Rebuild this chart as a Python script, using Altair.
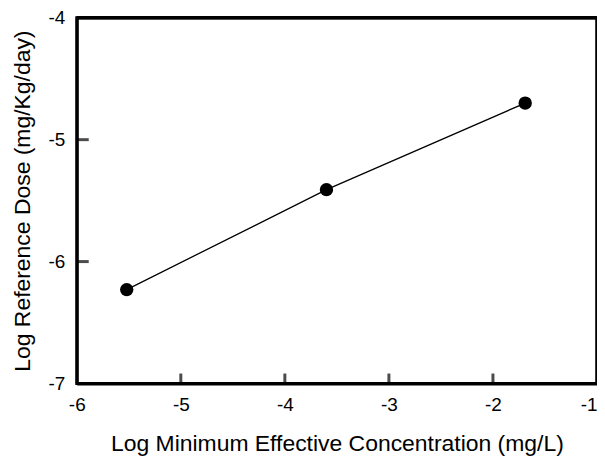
import altair as alt
import pandas as pd

log_mec = [-5.52, -3.60, -1.69]
log_rfd = [-6.23, -5.41, -4.70]
x_ticks = [-6, -5, -4, -3, -2, -1]
y_ticks = [-7, -6, -5, -4]
x_inner_ticks = [-5, -4, -3, -2]
y_inner_ticks = [-6, -5]

W, H = 522, 367
df = pd.DataFrame({"x": log_mec, "y": log_rfd})
xt = pd.DataFrame({"x": x_inner_ticks})
yt = pd.DataFrame({"y": y_inner_ticks})

font = "Liberation Sans"
xscale = alt.Scale(domain=[-6, -1], nice=False, zero=False)
yscale = alt.Scale(domain=[-7, -4], nice=False, zero=False)

common = dict(ticks=False, grid=False, domainColor="black", domainWidth=3,
              labelFontSize=19, titleFontSize=23, labelColor="black", titleColor="black",
              labelFont=font, titleFont=font, titleFontWeight="normal", labelFlush=False,
              labelExpr="'' + datum.value")
xaxis = alt.Axis(values=x_ticks, title="Log Minimum Effective Concentration (mg/L)",
                 labelPadding=12, titlePadding=18,
                 labelAlign=alt.condition("datum.value == -1", alt.value("right"), alt.value("center")),
                 **common)
yaxis = alt.Axis(values=y_ticks, title="Log Reference Dose (mg/Kg/day)",
                 labelPadding=12, titlePadding=14, **common)

base = alt.Chart(df)
line = base.mark_line(color="black", strokeWidth=1.3).encode(
    x=alt.X("x:Q", scale=xscale, axis=xaxis),
    y=alt.Y("y:Q", scale=yscale, axis=yaxis),
)
pts = base.mark_circle(color="black", size=180, opacity=1).encode(x="x:Q", y="y:Q")
xt_marks = alt.Chart(xt).mark_tick(color="black", thickness=3, size=10, orient="vertical").encode(
    x="x:Q", y=alt.value(H - 5))
yt_marks = alt.Chart(yt).mark_tick(color="black", thickness=3, size=12, orient="horizontal").encode(
    y="y:Q", x=alt.value(6))
top_border = alt.Chart(df).mark_rule(color="black", strokeWidth=3).encode(
    x=alt.value(0), x2=alt.value(W), y=alt.value(0))
right_border = alt.Chart(df).mark_rule(color="black", strokeWidth=2.5).encode(
    x=alt.value(W), y=alt.value(0), y2=alt.value(H))

chart = alt.layer(line, pts, xt_marks, yt_marks, top_border, right_border).properties(
    width=W, height=H,
    autosize=alt.AutoSizeParams(type="none"),
    padding={"left": 69, "top": 9, "right": 0, "bottom": 80},
).configure(background="white").configure_view(stroke="black", strokeWidth=3)

chart.save("out.html", embed_options={"renderer": "svg", "actions": False})
